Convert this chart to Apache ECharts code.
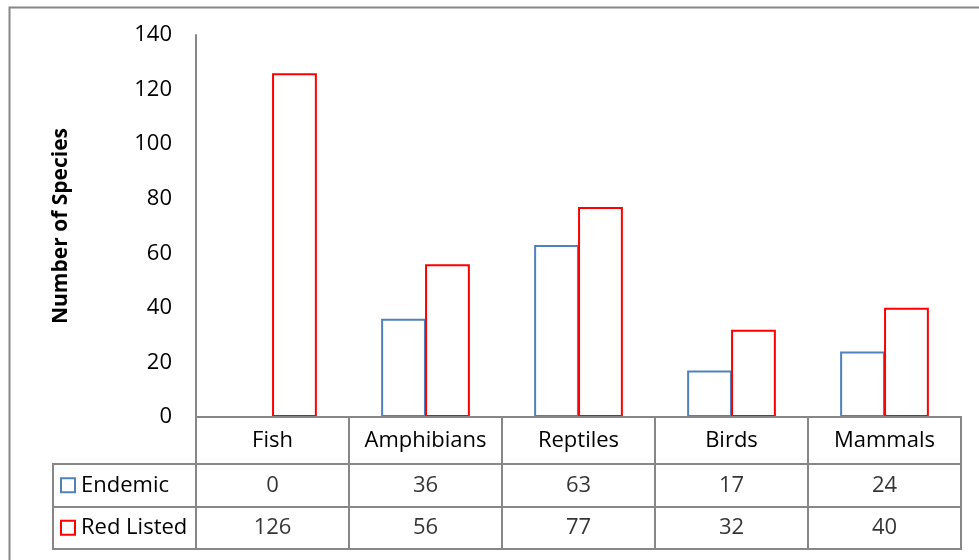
<!DOCTYPE html>
<html>
<head>
<meta charset="utf-8">
<script src="https://cdn.jsdelivr.net/npm/echarts@6/dist/echarts.min.js"></script>
<style>html,body{margin:0;padding:0;background:#fff}#c{width:979px;height:560px}</style>
</head>
<body>
<div id="c"></div>
<script>
var categories = ['Fish', 'Amphibians', 'Reptiles', 'Birds', 'Mammals'];
var seriesNames = ['Endemic', 'Red Listed'];
var endemic = [0, 36, 63, 17, 24];
var redListed = [126, 56, 77, 32, 40];
var yTicks = [0, 20, 40, 60, 80, 100, 120, 140];
var yTitle = 'Number of Species';

var FONT = 'Open Sans';
var GRAY = '#878787';
var BLUE = '#4F81BD';
var RED = '#FF0000';
var FS = 22;

var tableValues = [];
categories.forEach(function (c, i) {
  tableValues.push([c, seriesNames[0], endemic[i]]);
  tableValues.push([c, seriesNames[1], redListed[i]]);
});

var chart = echarts.init(document.getElementById('c'), null, {renderer: 'canvas'});
var hidden = {axisLine: {show: false}, axisTick: {show: false}, axisLabel: {show: false}, splitLine: {show: false}};
var option = {
  animation: false,
  backgroundColor: '#fff',
  textStyle: {fontFamily: FONT, color: '#000'},
  graphic: [{
    type: 'rect', silent: true,
    shape: {x: 9.5, y: 7.5, width: 1100, height: 700},
    style: {fill: null, stroke: GRAY, lineWidth: 2}
  }],
  grid: [
    {left: 196, right: 18, top: 35, bottom: 143, containLabel: false},
    {left: 196, right: 18, top: 417, height: 47, show: true, borderColor: GRAY, borderWidth: 2, backgroundColor: 'transparent'},
    {left: 196, right: 18, top: 464, height: 85, show: true, borderColor: GRAY, borderWidth: 2, backgroundColor: 'transparent'},
    {left: 53, width: 143, top: 464, height: 85, show: true, borderColor: GRAY, borderWidth: 2, backgroundColor: 'transparent'}
  ],
  xAxis: [
    {gridIndex: 0, type: 'category', data: categories, z: 5,
      axisLine: {show: true, lineStyle: {color: GRAY, width: 2}},
      axisTick: {show: false}, axisLabel: {show: false}, splitLine: {show: false}},
    {gridIndex: 1, type: 'category', data: categories, position: 'top',
      axisLine: {show: false}, axisTick: {show: false},
      axisLabel: {show: true, interval: 0, hideOverlap: false, inside: true, margin: 24, verticalAlign: 'middle', fontSize: FS, fontFamily: FONT, color: '#000'},
      splitLine: {show: true, interval: 0, lineStyle: {color: GRAY, width: 2}}},
    {gridIndex: 2, type: 'category', data: categories,
      axisLine: {show: false}, axisTick: {show: false}, axisLabel: {show: false},
      splitLine: {show: true, interval: 0, lineStyle: {color: GRAY, width: 2}}},
    Object.assign({gridIndex: 3, type: 'category', data: ['x']}, hidden)
  ],
  yAxis: [
    {gridIndex: 0, type: 'value', min: yTicks[0], max: yTicks[yTicks.length - 1], interval: yTicks[1] - yTicks[0],
      name: yTitle, nameLocation: 'middle', nameGap: 124, nameRotate: 90,
      nameTextStyle: {fontSize: 21, fontWeight: 'bold', fontFamily: FONT, color: '#000'},
      axisLine: {show: true, lineStyle: {color: GRAY, width: 2}},
      axisTick: {show: false}, splitLine: {show: false},
      axisLabel: {fontSize: 22, fontFamily: FONT, color: '#000', margin: 24}},
    {gridIndex: 2, type: 'category', data: seriesNames, inverse: true,
      axisLine: {show: false}, axisTick: {show: false},
      axisLabel: {show: true, interval: 0, align: 'left', margin: 134, fontSize: FS, fontFamily: FONT, color: '#000',
        formatter: function (v) { return (v === seriesNames[0] ? '{b|}' : '{r|}') + '{t|' + v + '}'; },
        rich: {
          b: {width: 12, height: 12, borderColor: BLUE, borderWidth: 2, backgroundColor: '#fff'},
          r: {width: 12, height: 12, borderColor: RED, borderWidth: 2, backgroundColor: '#fff'},
          t: {fontSize: FS, fontFamily: FONT, color: '#000', padding: [0, 0, 0, 7]}
        }},
      splitLine: {show: true, interval: 0, lineStyle: {color: GRAY, width: 2}}},
    {gridIndex: 3, type: 'category', data: seriesNames, inverse: true,
      axisLine: {show: false}, axisTick: {show: false}, axisLabel: {show: false},
      splitLine: {show: true, interval: 0, lineStyle: {color: GRAY, width: 2}}},
    Object.assign({gridIndex: 1, type: 'value'}, hidden)
  ],
  series: [
    {name: seriesNames[0], type: 'bar', xAxisIndex: 0, yAxisIndex: 0, data: endemic,
      barGap: '-2%', barCategoryGap: '42%',
      itemStyle: {color: 'rgba(255,255,255,0)', borderColor: BLUE, borderWidth: 2}},
    {name: seriesNames[1], type: 'bar', xAxisIndex: 0, yAxisIndex: 0, data: redListed,
      barGap: '-2%', barCategoryGap: '42%',
      itemStyle: {color: 'rgba(255,255,255,0)', borderColor: RED, borderWidth: 2}},
    {name: 'table', type: 'scatter', xAxisIndex: 2, yAxisIndex: 1, data: tableValues,
      symbolSize: 0, silent: true,
      label: {show: true, position: 'inside', fontSize: FS, fontFamily: FONT, color: '#000',
        formatter: function (p) { return String(p.value[2]); }}}
  ]
};
chart.setOption(option);
</script>
</body>
</html>
